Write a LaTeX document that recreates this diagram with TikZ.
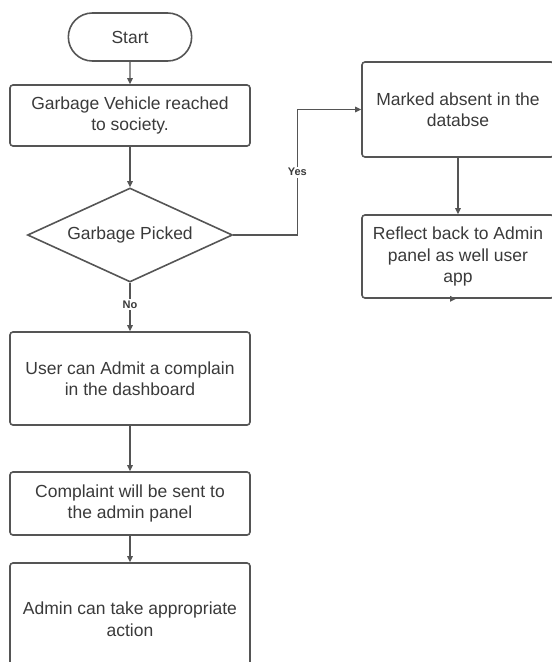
\documentclass[tikz,border=0pt]{standalone}
\usepackage{fontspec}
\setmainfont{Liberation Sans}
\usetikzlibrary{shapes.geometric,shapes.misc,arrows.meta,calc}
\definecolor{lc}{HTML}{555555}
\definecolor{tc}{HTML}{3A3A3A}
\tikzset{
  x=1pt,y=-1pt,
  proc/.style={draw=lc,line width=1.6pt,rounded corners=3pt,minimum width=240pt,align=center,text=tc,font=\fontsize{17.5}{21.5}\selectfont,inner sep=0pt},
  rproc/.style={proc,minimum width=192pt},
  term/.style={draw=lc,line width=1.6pt,rounded rectangle,minimum width=130pt,minimum height=48pt,text=tc,font=\fontsize{17.5}{21.5}\selectfont},
  dec/.style={draw=lc,line width=1.6pt,diamond,aspect=2.18,minimum width=205pt,minimum height=94pt,inner sep=0pt,text=tc,font=\fontsize{17.5}{21.5}\selectfont},
  conn/.style={draw=lc,line width=1.3pt,-{Triangle[length=6pt,width=5.5pt]}},
  lab/.style={fill=white,text=tc,font=\bfseries\fontsize{11}{13}\selectfont,inner sep=1.5pt}
}
\begin{document}
\begin{tikzpicture}
\useasboundingbox (0,0) rectangle (552,662);
\clip (0,0) rectangle (552,662);
\node[term] (start) at (130,37) {Start};
\node[proc,minimum height=61pt] (b1) at (130,115.5) {Garbage Vehicle reached\\to society.};
\node[dec] (d) at (130,235) {Garbage Picked};
\node[proc,minimum height=93pt] (b2) at (130,378.5) {User can Admit a complain\\in the dashboard};
\node[proc,minimum height=63pt] (b3) at (130,503.5) {Complaint will be sent to\\the admin panel};
\node[proc,minimum height=112pt] (b4) at (130,619) {Admin can take appropriate\\action};
\node[rproc,minimum height=95pt] (r1) at (458,109.5) {Marked absent in the\\databse};
\node[rproc,minimum height=83pt] (r2) at (458,256.5) {Reflect back to Admin\\panel as well user\\app};
\draw[conn] (start) -- (b1);
\draw[conn] (b1) -- (d);
\draw[conn] (d.south) -- node[lab,pos=0.45] {No} (b2.north);
\draw[conn] (b2) -- (b3);
\draw[conn] (b3) -- (b4);
\draw[conn] (d.east) -- ++(64,0) |- node[lab,pos=0.25] {Yes} (r1.west);
\draw[conn] (r1) -- (r2);
\coordinate (ta) at ($(r2.south)+(-18,0)$);
\coordinate (tb) at ($(r2.south)+(-2,0)$);
\draw[conn] (ta) -- (tb);
\end{tikzpicture}
\end{document}
